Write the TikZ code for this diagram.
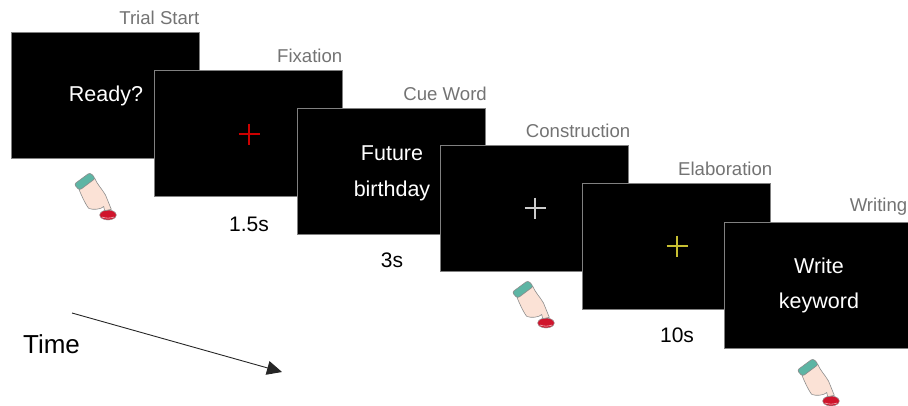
\documentclass[tikz,border=0pt]{standalone}
\usepackage{fontspec}
\setmainfont{Liberation Sans}
\usetikzlibrary{arrows.meta}
\definecolor{cuff}{HTML}{5DB5A4}
\definecolor{skin}{HTML}{FBE2D6}
\definecolor{knob}{HTML}{D0142C}
\tikzset{
    screen/.style={draw=black!50, line width=1pt, fill=black, minimum width=188.5pt, minimum height=126pt, inner sep=0pt},
    word/.style={text=white, inner sep=0pt, font=\fontsize{21.5}{25}\selectfont},
    phase/.style={text=black!55, inner sep=0pt, font=\fontsize{18.6}{22}\selectfont},
    duration/.style={text=black, inner sep=0pt, font=\fontsize{21}{25}\selectfont},
    crossline/.style={line width=1.15pt},
    pics/press/.style={code={
        \draw [draw=black!40, line width=0.5pt, fill=knob] (0, 0) ellipse (8.3pt and 5pt);
        \draw [white!70!knob, line width=0.6pt] (-6, 2) .. controls (-2, 3.5) and (2, 3.5) .. (6, 2);
        \draw [draw=black!45, line width=0.6pt, fill=skin] (-29, -25.7) -- (-13.3, -36.7) .. controls (-11, -31) and (-6, -26) .. (-2.5, -20) -- (3.3, -5.7) -- (-3.3, -4.3) -- (-4.3, -8.5) .. controls (-7, -5.5) and (-15, -5) .. (-19, -6.5) .. controls (-21, -8) and (-26, -18) .. cycle;
        \draw [draw=black!45, line width=0.6pt, fill=cuff, rounded corners=2.5pt] (-34, -30.7) -- (-18, -42.5) -- (-12.5, -36.7) -- (-28.5, -24.7) -- cycle;
    }},
    pics/plus/.style={code={
        \draw [crossline, #1] (-10.5, 0) -- (10.5, 0) (0, -10.5) -- (0, 10.5);
    }},
}
\begin{document}
\begin{tikzpicture}[x=1pt, y=-1pt]
    \useasboundingbox (0, 0) rectangle (908, 405);

    \node (s ready) [screen] at (105.5, 95) {};
    \node (l ready) [phase, anchor=east] at (199.5, 18) {Trial Start};
    \node (w ready) [word] at (106, 96) {Ready?};
    \pic at (108, 215) {press};

    \node (s fixation) [screen] at (248.5, 133) {};
    \node (l fixation) [phase, anchor=east] at (342.5, 56) {Fixation};
    \pic at (249, 134) {plus=red!80!black};
    \node (t fixation) [duration] at (249, 224) {1.5s};

    \node (s cue) [screen] at (391.5, 171) {};
    \node (l cue) [phase, anchor=east] at (487, 94) {Cue Word};
    \node (w future) [word] at (392, 153.5) {Future};
    \node (w birthday) [word] at (392, 191) {birthday};
    \node (t cue) [duration] at (392, 260) {3s};

    \node (s construction) [screen] at (534.5, 208.5) {};
    \node (l construction) [phase, anchor=east] at (630.5, 131) {Construction};
    \pic at (535, 208) {plus=white!80!black};
    \pic at (546, 323) {press};

    \node (s elaboration) [screen] at (676.5, 246) {};
    \node (l elaboration) [phase, anchor=east] at (772.5, 169) {Elaboration};
    \pic at (677, 246) {plus=yellow!75!black};
    \node (t elaboration) [duration] at (677, 335) {10s};

    \node (s writing) [screen] at (818.5, 285) {};
    \node (l writing) [phase, anchor=east] at (907.5, 207) {Writing};
    \node (w write) [word] at (819, 265.5) {Write};
    \node (w keyword) [word] at (819, 303) {keyword};
    \pic at (831, 401) {press};

    \node (time) [duration, font=\fontsize{26}{30}\selectfont] at (51.5, 344) {Time};
    \coordinate (t start) at (72, 313);
    \coordinate (t end) at (282, 372);
    \draw [-{Triangle[length=15pt, width=14pt]}, line width=0.9pt, black!85] (t start) -- (t end);
\end{tikzpicture}
\end{document}
